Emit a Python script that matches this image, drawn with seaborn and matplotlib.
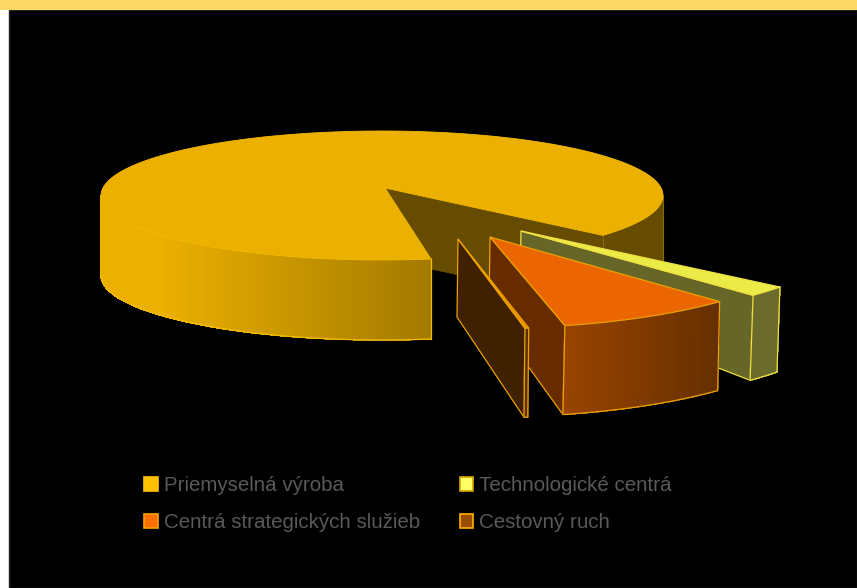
"""
3D exploded pie, share of investments by sector
"""
import numpy as np
import matplotlib
matplotlib.use('Agg')
import matplotlib.pyplot as plt
from matplotlib.collections import PolyCollection
from matplotlib.colors import to_rgb
from matplotlib.patches import Patch, Rectangle
import seaborn as sns

# data
categories = ['Priemyselná výroba', 'Technologické centrá',
              'Centrá strategických služieb', 'Cestovný ruch']
shares = [88.4, 1.95, 8.75, 0.2]
legend_colors = ['#ffc000', '#ffff66', '#ff6f00', '#994c00']
legend_edges = ['#ffc000', '#d9a800', '#ffa000', '#ffb000']

sns.set_theme(style='white')
plt.rcParams['font.family'] = ['Liberation Sans', 'DejaVu Sans']

START = -38.2  # angle of the first cut


def arc(c, rx, ry, t1, t2, n=80):
    t = np.radians(np.linspace(t1, t2, n))
    return np.c_[c[0] + rx * np.cos(t), c[1] - ry * np.sin(t)]


def side(ax, top, depth, slant, c_left, c_right, x_from=None, z=1):
    # curved outer face, cut in thin strips to get the shading
    c_left, c_right = np.array(to_rgb(c_left)), np.array(to_rgb(c_right))
    x0 = top[:, 0].min() if x_from is None else x_from
    x1 = top[:, 0].max()
    quads, cols = [], []
    bot = top + [slant, depth]
    for i in range(len(top) - 1):
        quads.append([top[i], top[i + 1], bot[i + 1], bot[i]])
        f = np.clip((0.5 * (top[i, 0] + top[i + 1, 0]) - x0) / (x1 - x0), 0, 1)
        cols.append(c_left + (c_right - c_left) * f)
    ax.add_collection(PolyCollection(quads, facecolors=cols, edgecolors='face',
                                     linewidths=0.5, antialiaseds=False, zorder=z))
    return bot


def exploded(ax, apex, rx, ry, t1, t2, depth_apex, depth_rim, slant, top_col, wall_col,
             c_left, c_right, edge, z):
    # t1 is the right cut, t2 the left one (the only wall we can see)
    rim = arc(apex, rx, ry, t2, t1, 30)
    apex = np.array(apex, dtype=float)
    bot = rim + [slant, depth_rim]
    apex_bot = apex + [-1, depth_apex]
    ax.fill(*np.array([apex, rim[0], bot[0], apex_bot]).T, fc=wall_col, ec=edge, lw=0.9, zorder=z)
    side(ax, rim, depth_rim, slant, c_left, c_right, z=z + 0.1)
    ax.plot(*np.array([rim[0], bot[0]]).T, color=edge, lw=0.9, zorder=z + 0.2)
    ax.plot(*np.array([rim[-1], bot[-1]]).T, color=edge, lw=0.9, zorder=z + 0.2)
    ax.plot(*bot.T, color=edge, lw=0.9, zorder=z + 0.2)
    ax.fill(*np.vstack([apex, rim]).T, fc=top_col, ec=edge, lw=0.9, zorder=z + 0.3)


fig = plt.figure(figsize=(8.57, 5.88), dpi=100, facecolor='white')
ax = fig.add_axes([0, 0, 1, 1])
ax.set_xlim(0, 857)
ax.set_ylim(588, 0)
ax.axis('off')

# page background
ax.add_patch(Rectangle((9, 10), 848, 578, fc='black', ec='#222222', lw=1, zorder=0))
ax.add_patch(Rectangle((0, 0), 857, 10, fc='#ffd966', ec='none', zorder=0.5))

# angles out of the shares
sweep = [s * 3.6 for s in shares]
main_end = START + sweep[0]
yellow_end = START - sweep[1]
orange_end = yellow_end - sweep[2]
tourism_end = orange_end - sweep[3]

# main slice
main_c = (382, 195.5)
main_rx, main_ry = 281, 64.5
main_apex = np.array([385.0, 188.0])
main_depth = 78
main_edge = '#f5bb00'
wall = '#664c00'

rim = arc(main_c, main_rx, main_ry, START, main_end, 240)
cut = rim[0]
ax.fill(*np.array([main_apex, cut, cut + [0, 71], main_apex + [0, 71]]).T,
        fc=wall, ec=wall, lw=0.5, zorder=1)
right = arc(main_c, main_rx, main_ry, START, 0, 40)
side(ax, right, main_depth, 0, wall, wall, z=1)
ax.plot([cut[0], cut[0]], [cut[1], cut[1] + 40], color='#8a6a00', lw=0.8, zorder=1.2)
ax.plot([right[-1, 0]] * 2, [right[-1, 1], right[-1, 1] + 65], color='#8a6a00', lw=0.8, zorder=1.2)
front = arc(main_c, main_rx, main_ry, 180, main_end, 120)
bot = side(ax, front, main_depth + 2, 0, '#ebb000', '#a37a00', x_from=160, z=1.5)
ax.plot(*bot.T, color=main_edge, lw=0.9, zorder=1.6)
ax.plot(*np.array([front[-1], bot[-1]]).T, color=main_edge, lw=0.9, zorder=1.6)
ax.fill(*np.vstack([main_apex, rim]).T, fc='#ebb000', ec=main_edge, lw=0.6, zorder=2)

# pulled out slices
exploded(ax, (521, 231), 329.5, 90.6, START, yellow_end, 60, 85, -3,
         '#ebeb47', '#666628', '#6b6b2b', '#6b6b2b', '#f0e040', 3)
exploded(ax, (490, 237), 326, 91, yellow_end, orange_end, 75, 89, -2,
         '#eb6600', '#662c00', '#994400', '#663000', '#eba000', 4)
exploded(ax, (458, 239), 308, 91.5, orange_end, tourism_end, 78, 89, -1,
         '#eb9000', '#3f2000', '#5c3000', '#5c3000', '#eba000', 5)

# legend
pal = sns.color_palette(legend_colors)
handles = [Patch(fc=pal[i], ec=legend_edges[i], lw=1.2) for i in (0, 2, 1, 3)]
labels = [categories[i] for i in (0, 2, 1, 3)]
leg = ax.legend(handles, labels, ncols=2, loc='upper left', bbox_to_anchor=(144, 476),
                bbox_transform=ax.transData, frameon=False, fontsize=14.8, borderpad=0,
                borderaxespad=0, handlelength=0.66, handleheight=0.66, handletextpad=0.3,
                labelspacing=0.88, columnspacing=1.94)
for txt in leg.get_texts():
    txt.set_color('#595959')

plt.savefig('out.png', dpi=100, facecolor='white')
